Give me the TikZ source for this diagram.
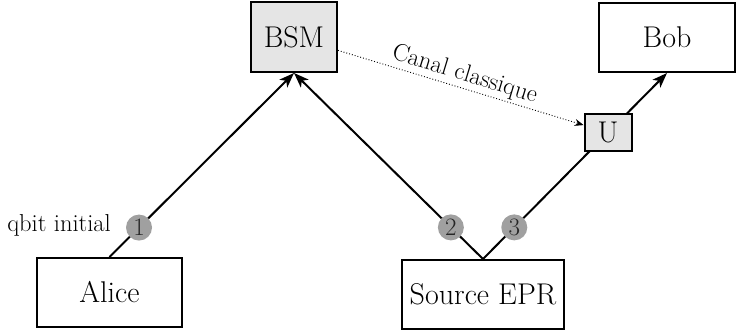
\documentclass[tikz,border=0pt]{standalone}
\usepackage{fontspec}
\usetikzlibrary{arrows.meta}
\definecolor{boxgray}{RGB}{229,229,229}
\definecolor{dotgray}{RGB}{160,160,160}
\begin{document}
\begin{tikzpicture}[x=1pt,y=-1pt,
  box/.style={draw, line width=2pt, font=\fontsize{30}{36}\selectfont,
    inner sep=0pt, minimum height=69pt},
  gbox/.style={box, fill=boxgray},
  flow/.style={line width=2pt, -{Stealth[length=15pt,width=11pt,inset=4pt]}},
  numdot/.style={circle, fill=dotgray, inner sep=0pt, minimum size=26pt,
    font=\fontsize{25}{25}\selectfont, text=black!85},
  smalltext/.style={font=\fontsize{24.5}{29}\selectfont}
]
\useasboundingbox (0,0) rectangle (737,333);

% parties and devices
\node[box, minimum width=145pt] (alice) at (109.5,292.5) {Alice};
\node[gbox, minimum width=86pt, minimum height=70pt] (bsm) at (294,37) {BSM};
\node[box, minimum width=162pt] (src) at (483,294.5) {Source EPR};
\node[box, minimum width=136pt] (bob) at (667,37.5) {Bob};

% quantum channels
\draw[flow] (alice.north) -- node[numdot, pos=0.16] (n1) {1} (bsm.south);
\draw[flow] (src.north) -- node[numdot, pos=0.17] (n2) {2} (bsm.south);
\draw[flow] (src.north) -- node[numdot, pos=0.17] (n3) {3}
  node[gbox, pos=0.68, minimum width=47pt, minimum height=37pt] (u) {U} (bob.south);

\node[smalltext, inner sep=0pt, anchor=east] (qlab) at ([xshift=-14pt,yshift=2pt]n1.west) {qbit initial};

% classical channel
\draw[line width=0.9pt, dotted, -{Stealth[length=9pt,width=7pt]}] (bsm) --
  node[smalltext, midway, above, sloped, inner sep=2pt] (cc) {Canal classique} (u);
\end{tikzpicture}
\end{document}
